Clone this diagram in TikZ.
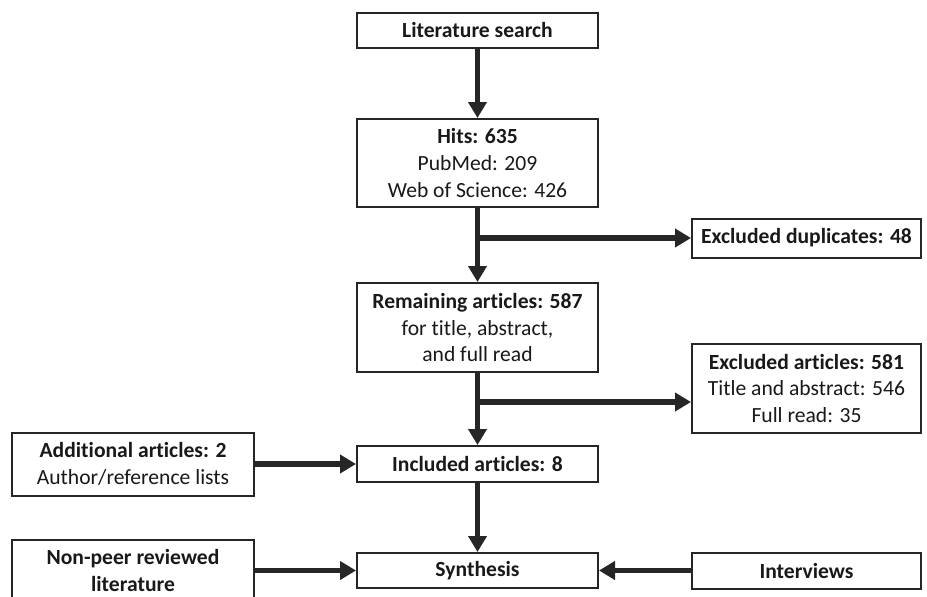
\documentclass[tikz,border=0pt]{standalone}
\usepackage{fontspec}
\setmainfont{Carlito}[Ligatures=CommonOff]
\usepackage{tikz}
\usetikzlibrary{arrows.meta}

\begin{document}
\begin{tikzpicture}
[x=0.75pt,y=-0.75pt,
 every node/.style={draw=black!85,line width=1.5pt,fill=white,align=center,inner sep=0pt,
   text=black!90,font=\fontsize{16.2}{19.9}\selectfont},
 midbox/.style={minimum width=180.75pt},
 rightbox/.style={minimum width=171.75pt},
 leftbox/.style={minimum width=181.5pt},
 flow/.style={draw=black!85,line width=4pt,-{Triangle[length=12pt,width=13.5pt]}}]
\useasboundingbox (0,0) rectangle (927,596);

\node[midbox,minimum height=26.25pt] (lit) at (477.5,30.5) {\textbf{Literature search}};
\node[midbox,minimum height=66pt] (hits) at (477.5,163) {\textbf{Hits: 635}\\PubMed: 209\\Web of Science: 426};
\node[midbox,minimum height=66.75pt] (remain) at (477.5,327.5) {\textbf{Remaining articles: 587}\\for title, abstract,\\and full read};
\node[midbox,minimum height=27pt] (incl) at (477.5,464) {\textbf{Included articles: 8}};
\node[midbox,minimum height=26.25pt] (synth) at (477.5,570.5) {\textbf{Synthesis}};

\node[rightbox,minimum height=29.25pt] (dup) at (806.5,238) {\textbf{Excluded duplicates: 48}};
\node[rightbox,minimum height=66.75pt] (excl) at (806.5,388.5) {\textbf{Excluded articles: 581}\\Title and abstract: 546\\Full read: 35};
\node[rightbox,minimum height=27pt] (interv) at (806.5,570.5) {\textbf{Interviews}};

\node[leftbox,minimum height=47.25pt] (addl) at (133,464) {\textbf{Additional articles: 2}\\Author/reference lists};
\node[leftbox,minimum height=46.5pt] (nonpeer) at (133,570.5) {\textbf{Non-peer reviewed}\\\textbf{literature}};

\coordinate (b1) at (hits.south |- dup.west);
\coordinate (b2) at (477.5,402);

\foreach \from/\to in {lit/hits,hits/remain,remain/incl,incl/synth,addl/incl,nonpeer/synth,interv/synth}
\draw[flow] (\from) -- (\to);
\draw[flow] (b1) -- (dup);
\draw[flow] (b2) -- (b2 -| excl.west);

\end{tikzpicture}
\end{document}
